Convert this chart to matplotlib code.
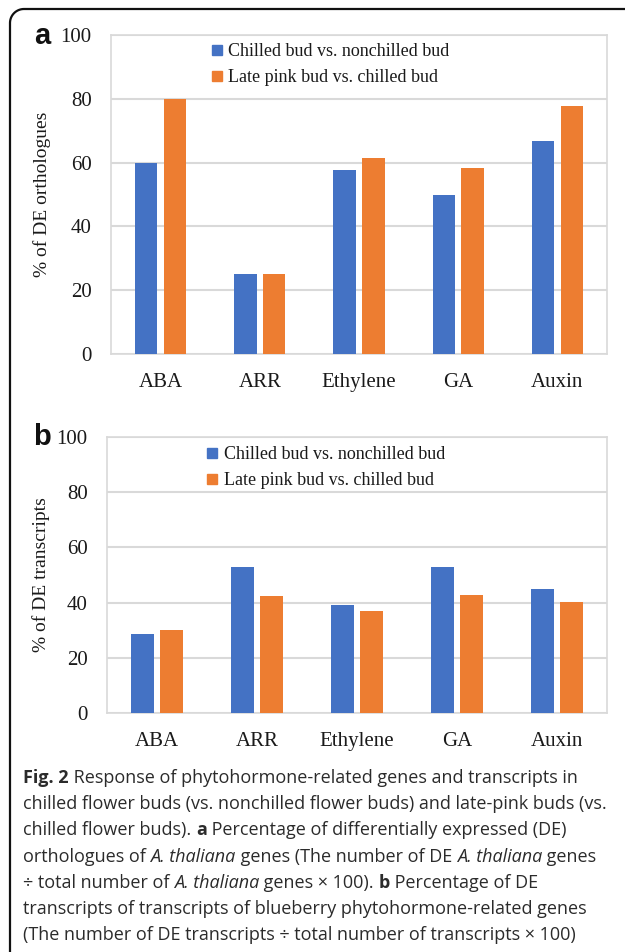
import matplotlib
matplotlib.use("Agg")
import matplotlib.pyplot as plt
import numpy as np
from matplotlib.lines import Line2D

categories = ["ABA", "ARR", "Ethylene", "GA", "Auxin"]
series_names = ["Chilled bud vs. nonchilled bud", "Late pink bud vs. chilled bud"]
a_chilled = [60.0, 25.0, 57.7, 50.0, 66.7]
a_latepink = [80.0, 25.0, 61.5, 58.3, 77.8]
b_chilled = [28.6, 53.0, 39.3, 53.0, 44.9]
b_latepink = [30.1, 42.3, 37.1, 42.8, 40.3]
yticks = [0, 20, 40, 60, 80, 100]
ylabel_a = "% of DE orthologues"
ylabel_b = "% of DE transcripts"

BLUE = "#4472C4"
ORANGE = "#ED7D31"
GRID = "#D9D9D9"
SERIF = ["Liberation Serif", "DejaVu Serif"]
SANS = ["Open Sans", "DejaVu Sans"]

W, H = 625, 952
fig = plt.figure(figsize=(W / 100, H / 100), dpi=100)
fig.patch.set_facecolor("white")


def px_axes(l, t, r, b):
    return fig.add_axes([l / W, 1 - b / H, (r - l) / W, (b - t) / H])


def draw_panel(ax, s1, s2, ylabel, leg_anchor, ylab_x):
    x = np.arange(len(categories))
    w = 0.225
    off = 0.145
    ax.bar(x - off, s1, width=w, color=BLUE, label=series_names[0], zorder=3)
    ax.bar(x + off, s2, width=w, color=ORANGE, label=series_names[1], zorder=3)
    ax.set_xlim(-0.5, len(categories) - 0.5)
    ax.set_ylim(0, 100)
    ax.set_yticks(yticks)
    ax.set_xticks(x)
    ax.set_xticklabels(categories, fontfamily=SERIF, fontsize=15, color="#1a1a1a")
    ax.set_yticklabels([str(v) for v in yticks], fontfamily=SERIF, fontsize=15, color="#1a1a1a")
    ax.tick_params(axis="both", length=0)
    ax.tick_params(axis="x", pad=14)
    ax.tick_params(axis="y", pad=14)
    ax.grid(axis="y", color=GRID, linewidth=1.5, zorder=0)
    for sp in ax.spines.values():
        sp.set_color(GRID)
        sp.set_linewidth(1.2)
    ax.set_ylabel(ylabel, fontfamily=SERIF, fontsize=14, color="#1a1a1a")
    ax.yaxis.set_label_coords(ylab_x, 0.5)
    handles = [Line2D([], [], marker="s", linestyle="none", markersize=6.5, color=c)
               for c in (BLUE, ORANGE)]
    leg = ax.legend(handles, series_names, loc="upper left", bbox_to_anchor=leg_anchor,
                    frameon=False, prop={"family": SERIF, "size": 13},
                    handlelength=0.6, handletextpad=0.35, labelspacing=0.52,
                    borderaxespad=0, borderpad=0)
    for t in leg.get_texts():
        t.set_color("#1a1a1a")


ax_a = px_axes(111, 35, 607, 354)
draw_panel(ax_a, a_chilled, a_latepink, ylabel_a, (0.202, 0.975), -0.121)
ax_b = px_axes(107, 437, 607, 713)
draw_panel(ax_b, b_chilled, b_latepink, ylabel_b, (0.2, 0.967), -0.114)

# panel letters
fig.text(34 / W, 1 - 36 / H, "a", fontfamily=["Liberation Sans", "DejaVu Sans"],
         fontweight="bold", fontsize=21, va="center", ha="left", color="#111")
fig.text(33 / W, 1 - 437 / H, "b", fontfamily=["Liberation Sans", "DejaVu Sans"],
         fontweight="bold", fontsize=21, va="center", ha="left", color="#111")

# rounded border (top and left edges)
r = 14
theta = np.linspace(np.pi, np.pi / 2, 20)
bx = list(10 + r + r * np.cos(theta)) + [624]
by = list(9 + r - r * np.sin(theta)) + [9]
bx = [10, 10] + bx
by = [951, 9 + r] + by
fig.add_artist(Line2D([v / W for v in bx], [1 - v / H for v in by],
                      transform=fig.transFigure, color="#111", linewidth=1.6))

# caption
caption_lines = [
    [("Fig. 2", "bold"), (" Response of phytohormone-related genes and transcripts in", "normal")],
    [("chilled flower buds (vs. nonchilled flower buds) and late-pink buds (vs.", "normal")],
    [("chilled flower buds). ", "normal"), ("a", "bold"),
     (" Percentage of differentially expressed (DE)", "normal")],
    [("orthologues of ", "normal"), ("A. thaliana", "italic"), (" genes (The number of DE ", "normal"),
     ("A. thaliana", "italic"), (" genes", "normal")],
    [("\u00f7 total number of ", "normal"), ("A. thaliana", "italic"),
     (" genes \u00d7 100). ", "normal"), ("b", "bold"), (" Percentage of DE", "normal")],
    [("transcripts of transcripts of blueberry phytohormone-related genes", "normal")],
    [("(The number of DE transcripts \u00f7 total number of transcripts \u00d7 100)", "normal")],
]
renderer = fig.canvas.get_renderer()
cap_size = 13.0
y0 = 778
dy = 26.2
for i, line in enumerate(caption_lines):
    xpix = 23
    for txt, style in line:
        kw = dict(fontfamily=SANS, fontsize=cap_size, color="#2b2b2b", va="center", ha="left")
        if style == "bold":
            kw["fontweight"] = "bold"
        if style == "italic":
            kw["fontstyle"] = "italic"
        t = fig.text(xpix / W, 1 - (y0 + i * dy) / H, txt, **kw)
        bb = t.get_window_extent(renderer)
        xpix += bb.width

fig.savefig("out.png", dpi=100, facecolor="white")
